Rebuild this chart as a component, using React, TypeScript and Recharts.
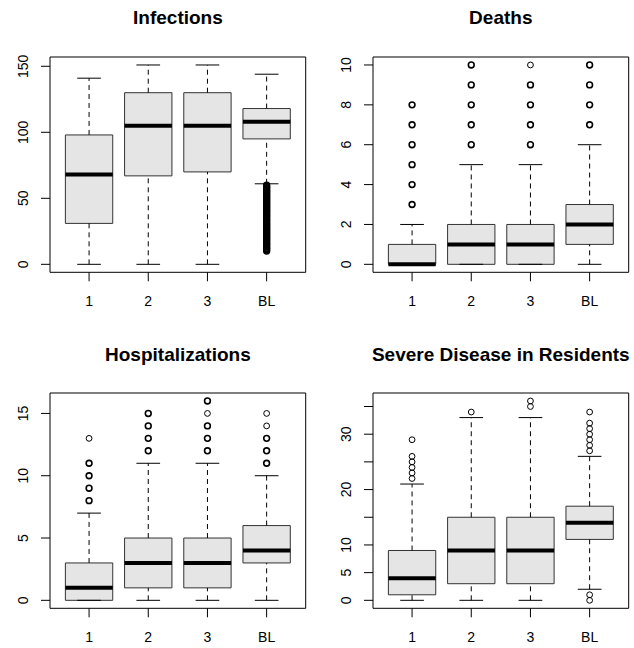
import { ScatterChart, Scatter, XAxis, YAxis, ReferenceArea, ReferenceLine } from "recharts";

const FONT = '"Liberation Sans", Arial, Helvetica, sans-serif';

const categories = ["1", "2", "3", "BL"];

// Infections
const infQ1 = [31, 67, 70, 95];
const infMed = [68, 105, 105, 108];
const infQ3 = [98, 130, 130, 118];
const infLo = [0, 0, 0, 61];
const infHi = [141, 151, 151, 144];
const infOut = [
  [],
  [],
  [],
  [10, 11, 12, 13, 14, 15, 16, 17, 18, 19, 20, 21, 22, 23, 24, 25, 26, 27, 28, 29, 30, 31, 32, 33, 34, 35,
    36, 37, 38, 39, 40, 41, 42, 43, 44, 45, 46, 47, 48, 49, 50, 51, 52, 53, 54, 55, 56, 57, 58, 59, 60],
];
const infThin = [[], [], [], []];
const infTicks = [0, 50, 100, 150];

// Deaths
const deathQ1 = [0, 0, 0, 1];
const deathMed = [0, 1, 1, 2];
const deathQ3 = [1, 2, 2, 3];
const deathLo = [0, 0, 0, 0];
const deathHi = [2, 5, 5, 6];
const deathOut = [[3, 4, 5, 6, 7, 8], [6, 7, 8, 9, 10], [6, 7, 8, 9, 10], [7, 8, 9, 10]];
const deathThin = [[], [], [10], []];
const deathTicks = [0, 2, 4, 6, 8, 10];

// Hospitalizations
const hospQ1 = [0, 1, 1, 3];
const hospMed = [1, 3, 3, 4];
const hospQ3 = [3, 5, 5, 6];
const hospLo = [0, 0, 0, 0];
const hospHi = [7, 11, 11, 10];
const hospOut = [[8, 9, 10, 11, 13], [12, 13, 14, 15], [12, 13, 14, 15, 16], [11, 12, 13, 14, 15]];
const hospThin = [[13], [], [15], [14, 15]];
const hospTicks = [0, 5, 10, 15];

// Severe Disease in Residents
const sevQ1 = [1, 3, 3, 11];
const sevMed = [4, 9, 9, 14];
const sevQ3 = [9, 15, 15, 17];
const sevLo = [0, 0, 0, 2];
const sevHi = [21, 33, 33, 26];
const sevOut = [[22, 23, 24, 25, 26, 29], [34], [35, 36], [0, 1, 27, 28, 29, 30, 31, 32, 34]];
const sevThin = [[22, 23, 24, 25, 26, 29], [34], [35, 36], [0, 1, 27, 28, 29, 30, 31, 32, 34]];
const sevTicks = [0, 5, 10, 15, 20, 25, 30, 35];
const sevLabels = [0, 5, 10, 20, 30];

function XTick(props: any) {
  const { x, y, payload } = props;
  return (
    <text x={x} y={y} textAnchor="middle" fontSize={14} fontFamily={FONT} fill="#000">
      {categories[payload.value - 1]}
    </text>
  );
}

function YTick(props: any) {
  const { x, y, payload, labels } = props;
  if (labels && !labels.includes(payload.value)) return <g />;
  return (
    <text
      x={x}
      y={y}
      transform={`rotate(-90, ${x}, ${y})`}
      textAnchor="middle"
      fontSize={14}
      fontFamily={FONT}
      fill="#000"
    >
      {payload.value}
    </text>
  );
}

function Outlier(props: any) {
  const { cx, cy, payload } = props;
  return (
    <circle cx={cx} cy={cy} r={2.9} fill="none" stroke="#000" strokeWidth={payload.thin ? 1 : 1.6} />
  );
}

interface PanelProps {
  q1: number[];
  med: number[];
  q3: number[];
  lo: number[];
  hi: number[];
  out: number[][];
  thin: number[][];
  ymax: number;
  ticks: number[];
  labels?: number[];
  axisWidth: number;
  right: number;
}

function BoxPanel({ q1, med, q3, lo, hi, out, thin, ymax, ticks, labels, axisWidth, right }: PanelProps) {
  const pad = ymax * 0.04;
  const yDomain = [-pad, ymax + pad];
  const xDomain = [0.34, 4.66];
  const points = out.flatMap((vals, i) =>
    vals.map((v) => ({ x: i + 1, y: v, thin: thin[i].includes(v) }))
  );
  return (
    <ScatterChart width={317} height={312} margin={{ top: 57, right, bottom: 0, left: 0 }}>
      <XAxis
        dataKey="x"
        type="number"
        domain={xDomain}
        ticks={[1, 2, 3, 4]}
        interval={0}
        allowDataOverflow
        axisLine={false}
        tickSize={9}
        tickMargin={25}
        height={39.7}
        stroke="#000"
        tick={<XTick />}
      />
      <YAxis
        dataKey="y"
        type="number"
        domain={yDomain}
        ticks={ticks}
        interval={0}
        allowDataOverflow
        axisLine={false}
        tickSize={9}
        tickMargin={13}
        width={axisWidth}
        stroke="#000"
        tick={(p: any) => <YTick {...p} labels={labels} />}
      />
      {categories.map((_, i) => (
        <ReferenceLine
          key={`wu${i}`}
          segment={[{ x: i + 1, y: q3[i] }, { x: i + 1, y: hi[i] }]}
          stroke="#000"
          strokeDasharray="5 4"
        />
      ))}
      {categories.map((_, i) => (
        <ReferenceLine
          key={`wl${i}`}
          segment={[{ x: i + 1, y: lo[i] }, { x: i + 1, y: q1[i] }]}
          stroke="#000"
          strokeDasharray="5 4"
        />
      ))}
      {categories.map((_, i) => (
        <ReferenceArea
          key={`b${i}`}
          x1={i + 1 - 0.4}
          x2={i + 1 + 0.4}
          y1={q1[i]}
          y2={q3[i]}
          fill="#e4e5e4"
          fillOpacity={1}
          stroke="#333"
          strokeWidth={1}
        />
      ))}
      {categories.map((_, i) => (
        <ReferenceLine
          key={`m${i}`}
          segment={[{ x: i + 1 - 0.4, y: med[i] }, { x: i + 1 + 0.4, y: med[i] }]}
          stroke="#000"
          strokeWidth={4}
        />
      ))}
      {categories.map((_, i) => (
        <ReferenceLine
          key={`cu${i}`}
          segment={[{ x: i + 1 - 0.2, y: hi[i] }, { x: i + 1 + 0.2, y: hi[i] }]}
          stroke="#000"
        />
      ))}
      {categories.map((_, i) => (
        <ReferenceLine
          key={`cl${i}`}
          segment={[{ x: i + 1 - 0.2, y: lo[i] }, { x: i + 1 + 0.2, y: lo[i] }]}
          stroke="#000"
        />
      ))}
      <Scatter data={points} dataKey="y" shape={<Outlier />} isAnimationActive={false} />
      <ReferenceArea
        x1={xDomain[0]}
        x2={xDomain[1]}
        y1={yDomain[0]}
        y2={yDomain[1]}
        fill="none"
        stroke="#000"
        strokeWidth={1}
        ifOverflow="visible"
      />
    </ScatterChart>
  );
}

const titleStyle = { fontFamily: FONT, fontSize: 19, fontWeight: 700 };

export default function App() {
  return (
    <div style={{ position: "absolute", left: 0, top: 0, width: 634, height: 648, background: "#fff", overflow: "hidden" }}>
      <div style={{ position: "absolute", left: 0, top: 0 }}>
        <BoxPanel q1={infQ1} med={infMed} q3={infQ3} lo={infLo} hi={infHi} out={infOut} thin={infThin}
          ymax={151} ticks={infTicks} axisWidth={50} right={11.3} />
      </div>
      <div style={{ position: "absolute", left: 317, top: 0 }}>
        <BoxPanel q1={deathQ1} med={deathMed} q3={deathQ3} lo={deathLo} hi={deathHi} out={deathOut} thin={deathThin}
          ymax={10} ticks={deathTicks} axisWidth={56} right={5.3} />
      </div>
      <div style={{ position: "absolute", left: 0, top: 336 }}>
        <BoxPanel q1={hospQ1} med={hospMed} q3={hospQ3} lo={hospLo} hi={hospHi} out={hospOut} thin={hospThin}
          ymax={16} ticks={hospTicks} axisWidth={50} right={11.3} />
      </div>
      <div style={{ position: "absolute", left: 317, top: 336 }}>
        <BoxPanel q1={sevQ1} med={sevMed} q3={sevQ3} lo={sevLo} hi={sevHi} out={sevOut} thin={sevThin}
          ymax={36} ticks={sevTicks} labels={sevLabels} axisWidth={56} right={5.3} />
      </div>
      <svg width={634} height={648} style={{ position: "absolute", left: 0, top: 0, pointerEvents: "none" }}>
        <text x={177.9} y={24} textAnchor="middle" {...titleStyle}>Infections</text>
        <text x={500.8} y={24} textAnchor="middle" {...titleStyle}>Deaths</text>
        <text x={177.9} y={360.5} textAnchor="middle" {...titleStyle}>Hospitalizations</text>
        <text x={500.8} y={360.5} textAnchor="middle" {...titleStyle}>Severe Disease in Residents</text>
      </svg>
    </div>
  );
}
